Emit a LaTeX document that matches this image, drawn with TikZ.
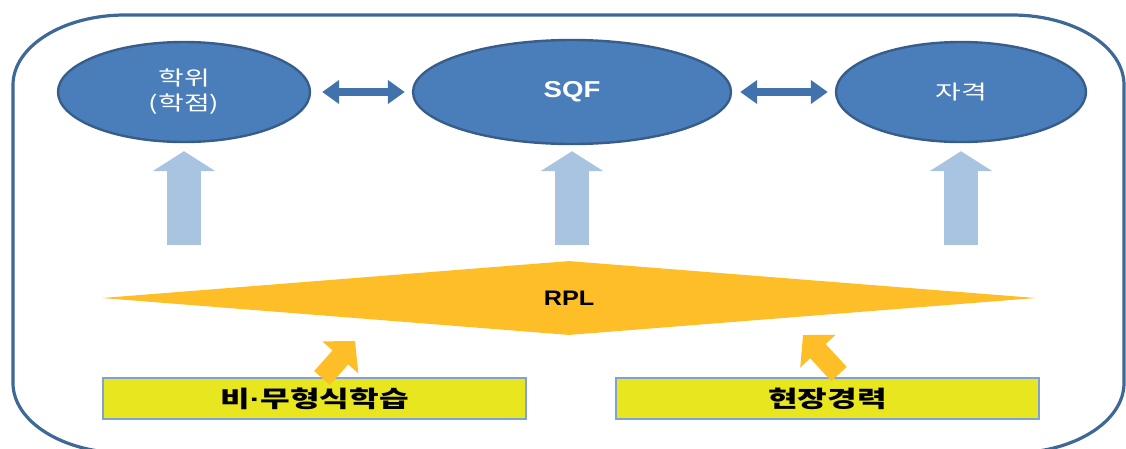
\documentclass[tikz,border=0pt]{standalone}
\usepackage{fontspec}
\setmainfont{Noto Sans CJK KR}
\newfontfamily\latinbf{Liberation Sans}
\usetikzlibrary{shapes.geometric, arrows.meta, positioning}

\definecolor{framec}{HTML}{3E6997}
\definecolor{ellfill}{HTML}{4A7EBB}
\definecolor{elldraw}{HTML}{385D8A}
\definecolor{linkc}{HTML}{4172AC}
\definecolor{liftc}{HTML}{A9C4E0}
\definecolor{rplc}{HTML}{FDBE28}
\definecolor{boxc}{HTML}{E8E61E}
\definecolor{boxedge}{HTML}{7FA2D2}

% Korean text looks wider in the picture
\newcommand{\wideKR}[1]{\scalebox{1.4}[1]{#1}}
\newcommand{\wideLT}[1]{\scalebox{1.2}[1]{#1}}

\begin{document}
\begin{tikzpicture}[x=1pt, y=-1pt,
  frame/.style={draw=framec, line width=3.2pt},
  goal/.style={ellipse, draw=elldraw, fill=ellfill, line width=2.4pt,
               text=white, inner sep=0pt, align=center},
  twoway/.style={draw=linkc, line width=8pt,
                 {Triangle[width=23pt,length=17pt]}-{Triangle[width=23pt,length=17pt]}},
  lift/.style={draw=liftc, line width=34pt, -{Triangle[width=62pt,length=20pt]}},
  feed/.style={draw=rplc, line width=21pt, -{Triangle[width=47pt,length=22pt]}},
  source/.style={rectangle, draw=boxedge, fill=boxc, line width=1.2pt,
                 minimum width=423pt, minimum height=41pt, inner sep=0pt,
                 font=\bfseries\fontsize{23}{26}\selectfont}]

\useasboundingbox (0,0) rectangle (1126,448);
\clip (0,0) rectangle (1126,448);

% outer frame
\draw[frame] (125,15) -- (1012,15)
  arc[start angle=270, end angle=360, x radius=112, y radius=70] -- (1124,383)
  arc[start angle=0, end angle=90, x radius=112, y radius=70] -- (125,453)
  arc[start angle=90, end angle=180, x radius=112, y radius=70] -- (13,85)
  arc[start angle=180, end angle=270, x radius=112, y radius=70] -- cycle;

% top row
\node[goal, minimum width=252pt, minimum height=100pt,
      font=\fontsize{20}{25}\selectfont] (deg) at (184,92) {\wideKR{학위}\\\wideKR{(학점)}};
\node[goal, minimum width=318pt, minimum height=104pt,
      font=\latinbf\bfseries\fontsize{23}{26}\selectfont] (sqf) at (572,92) {\wideLT{SQF}};
\node[goal, minimum width=250pt, minimum height=100pt,
      font=\fontsize{20}{25}\selectfont] (qual) at (961,92) {\wideKR{자격}};

\draw[twoway, shorten <=11pt, shorten >=7pt] (deg.east) -- (sqf.west);
\draw[twoway, shorten <=8pt, shorten >=7pt] (sqf.east) -- (qual.west);

% RPL
\node[diamond, fill=rplc, inner sep=0pt, minimum width=934pt, minimum height=74pt,
      font=\latinbf\bfseries\fontsize{21}{24}\selectfont] (rpl) at (569,298) {\wideLT{RPL}};

\coordinate (b1) at (184,245);
\coordinate (b2) at (572,245);
\coordinate (b3) at (961,245);
\draw[lift, shorten >=8pt] (b1) -- (deg.south);
\draw[lift, shorten >=6pt] (b2) -- (sqf.south);
\draw[lift, shorten >=8pt] (b3) -- (qual.south);

% bottom row
\node[source] (nfl) at (314.5,398.5) {\wideKR{비{\latinbf·}무형식학습}};
\node[source] (work) at (827.5,398.5) {\wideKR{현장경력}};

\coordinate (t1) at (322,378);
\coordinate (h1) at (355,341);
\coordinate (t2) at (839,374);
\coordinate (h2) at (803,335);
\draw[feed] (t1) -- (h1);
\draw[feed] (t2) -- (h2);

\end{tikzpicture}
\end{document}
